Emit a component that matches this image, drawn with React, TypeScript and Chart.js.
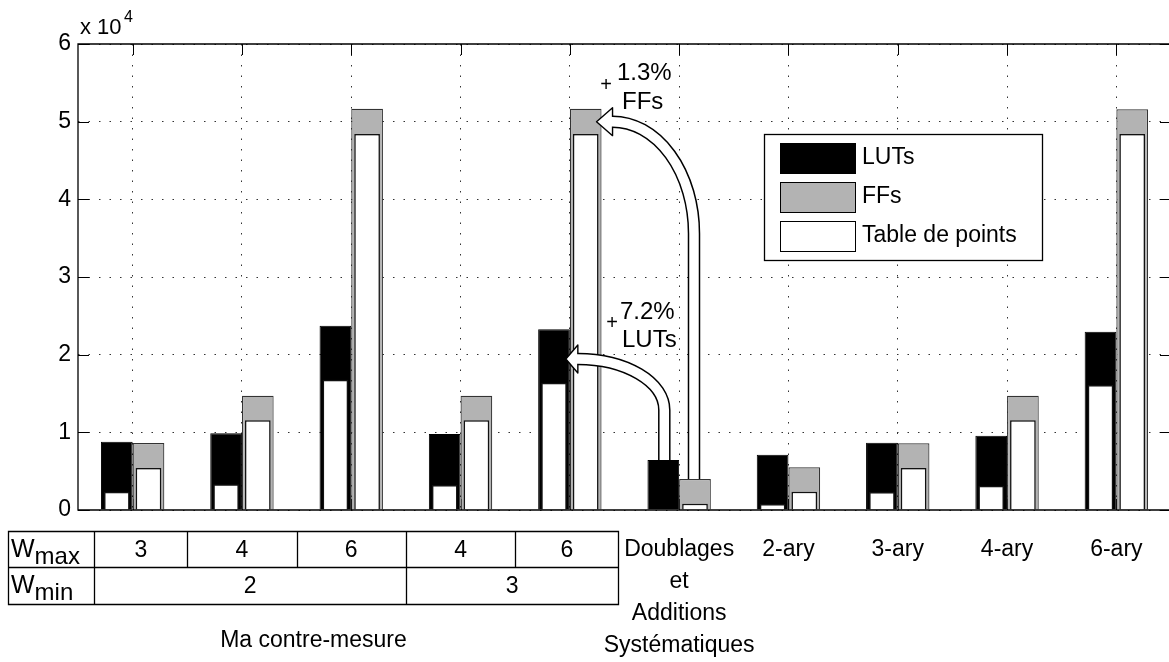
import React, { useEffect, useRef } from 'react';
import { Chart, registerables } from 'chart.js';
Chart.register(...registerables);

// ---- data ----
const categories: (string | string[])[] = ['', '', '', '', '', ['Doublages', 'et', 'Additions', 'Systématiques'], '2-ary', '3-ary', '4-ary', '6-ary'];
const lutsTotal = [8790, 9880, 23730, 9780, 23270, 6440, 7120, 8660, 9570, 22960];
const ffsTotal = [8630, 14700, 51670, 14700, 51670, 3990, 5500, 8590, 14700, 51590];
const lutsTable = [2360, 3310, 16780, 3220, 16390, 0, 770, 2320, 3130, 16090];
const ffsTable = [5410, 11550, 48410, 11550, 48410, 810, 2360, 5410, 11550, 48410];
const yTickValues = [0, 1, 2, 3, 4, 5, 6]; // x 10^4
const wmaxLabels = ['3', '4', '6', '4', '6'];
const wminLabels = [{ label: '2', from: 0, to: 2 }, { label: '3', from: 3, to: 4 }];
const groupLabel = 'Ma contre-mesure';
const legendLabels = ['LUTs', 'FFs', 'Table de points'];
const ffIncrease = '1.3%';
const lutIncrease = '7.2%';

const FONT = '"Liberation Sans", Arial, Helvetica, sans-serif';
const GRAY = '#b3b3b3';

function hollowArrow(ctx: CanvasRenderingContext2D, path: () => void, tip: [number, number], base: [number, number], halfW: number) {
  ctx.save();
  ctx.lineCap = 'butt';
  ctx.lineJoin = 'round';
  ctx.strokeStyle = '#000';
  ctx.lineWidth = 12.5;
  ctx.beginPath(); path(); ctx.stroke();
  ctx.beginPath();
  ctx.moveTo(tip[0], tip[1]);
  ctx.lineTo(base[0], base[1] - halfW);
  ctx.lineTo(base[0], base[1] + halfW);
  ctx.closePath();
  ctx.fillStyle = '#fff';
  ctx.fill();
  ctx.lineWidth = 1.4;
  ctx.stroke();
  ctx.strokeStyle = '#fff';
  ctx.lineWidth = 9.5;
  ctx.beginPath(); path(); ctx.stroke();
  ctx.restore();
}

const decor = {
  id: 'decor',
  beforeDatasetsDraw(chart: any) {
    const { ctx, chartArea: a, scales } = chart;
    const x = scales.x, y = scales.y;
    ctx.save();
    ctx.strokeStyle = '#000';
    ctx.lineWidth = 1;
    ctx.beginPath();
    yTickValues.forEach((t) => {
      const py = Math.round(y.getPixelForValue(t * 10000)) + 0.5;
      ctx.moveTo(a.left, py); ctx.lineTo(a.left + 11, py);
      ctx.moveTo(a.right - 11, py); ctx.lineTo(a.right, py);
    });
    categories.forEach((_, i) => {
      const px = Math.round(x.getPixelForValue(i)) + 0.5;
      ctx.moveTo(px, a.top); ctx.lineTo(px, a.top + 11);
      ctx.moveTo(px, a.bottom - 11); ctx.lineTo(px, a.bottom);
    });
    ctx.stroke();
    ctx.restore();
  },
  afterDatasetsDraw(chart: any) {
    const { ctx, chartArea: a, scales } = chart;
    const x = scales.x, y = scales.y;
    ctx.save();
    ctx.strokeStyle = '#000';
    ctx.lineWidth = 1.3;
    ctx.beginPath();
    ctx.moveTo(a.left, a.bottom); ctx.lineTo(a.left, a.top); ctx.lineTo(a.right, a.top); ctx.lineTo(a.right, a.bottom); ctx.closePath();
    ctx.stroke();

    const lutMeta = chart.getDatasetMeta(2);
    const ffMeta = chart.getDatasetMeta(3);
    {
      const src = ffMeta.data[5];
      const dst = ffMeta.data[4];
      const sx = src.x - 1;
      const tipX = dst.x + dst.width / 2 - 5;
      const tipY = y.getPixelForValue(50000);
      const baseX = tipX + 16;
      const cy = y.getPixelForValue(35600);
      hollowArrow(ctx, () => {
        ctx.moveTo(sx, src.y);
        ctx.lineTo(sx, cy);
        ctx.ellipse(baseX, cy, sx - baseX, cy - tipY, 0, 0, -Math.PI / 2, true);
        ctx.lineTo(baseX - 2, tipY);
      }, [tipX, tipY], [baseX, tipY], 14);
    }
    {
      const src = lutMeta.data[5];
      const dst = lutMeta.data[4];
      const sx = src.x + 1;
      const tipX = dst.x + dst.width / 2 - 4;
      const tipY = y.getPixelForValue(19440);
      const baseX = tipX + 12;
      const cy = y.getPixelForValue(12870);
      hollowArrow(ctx, () => {
        ctx.moveTo(sx, src.y);
        ctx.lineTo(sx, cy);
        ctx.ellipse(baseX, cy, sx - baseX, cy - tipY, 0, 0, -Math.PI / 2, true);
        ctx.lineTo(baseX - 2, tipY);
      }, [tipX, tipY], [baseX, tipY], 14);
    }

    ctx.fillStyle = '#000';
    ctx.textBaseline = 'middle';
    ctx.textAlign = 'left';
    ctx.font = `24px ${FONT}`;
    ctx.fillText(ffIncrease, 617, 73);
    ctx.fillText('FFs', 622, 102);
    ctx.fillText(lutIncrease, 620, 312);
    ctx.fillText('LUTs', 622, 340);
    ctx.font = `20px ${FONT}`;
    ctx.textAlign = 'center';
    ctx.fillText('+', 606, 85);
    ctx.fillText('+', 612, 323);

    const lx = 764, ly = 134, lw = 278, lh = 126;
    ctx.fillStyle = '#fff';
    ctx.fillRect(lx, ly, lw, lh);
    ctx.strokeStyle = '#000';
    ctx.lineWidth = 1.3;
    ctx.strokeRect(lx + 0.5, ly + 0.5, lw, lh);
    const fills = ['#000', GRAY, '#fff'];
    legendLabels.forEach((lab, i) => {
      const sy = 143 + i * 39;
      ctx.fillStyle = fills[i];
      ctx.fillRect(780, sy, 75, 30);
      ctx.lineWidth = 1;
      ctx.strokeStyle = '#000';
      ctx.strokeRect(780.5, sy + 0.5, 75, 30);
      ctx.fillStyle = '#000';
      ctx.font = `23px ${FONT}`;
      ctx.textAlign = 'left';
      ctx.textBaseline = 'middle';
      ctx.fillText(lab, 862, sy + 15);
    });

    ctx.textBaseline = 'alphabetic';
    ctx.textAlign = 'left';
    ctx.font = `22px ${FONT}`;
    ctx.fillText('x 10', 80, 34);
    ctx.font = `16px ${FONT}`;
    ctx.fillText('4', 124, 22);

    const cx = (i: number) => x.getPixelForValue(i);
    const mid = (i: number) => (cx(i) + cx(i + 1)) / 2;
    const tLeft = 8.5, tCol = 94.5, tRight = mid(4) - 6;
    const r0 = 531.5, r1 = 567.5, r2 = 604.5;
    ctx.strokeStyle = '#000';
    ctx.lineWidth = 1.3;
    ctx.beginPath();
    ctx.rect(tLeft, r0, tRight - tLeft, r2 - r0);
    ctx.moveTo(tLeft, r1); ctx.lineTo(tRight, r1);
    ctx.moveTo(tCol, r0); ctx.lineTo(tCol, r2);
    for (let i = 0; i < 4; i++) { const m = Math.round(mid(i)) + 0.5; ctx.moveTo(m, r0); ctx.lineTo(m, r1); }
    const m23 = Math.round(mid(2)) + 0.5;
    ctx.moveTo(m23, r1); ctx.lineTo(m23, r2);
    ctx.stroke();
    const colEdges = [tCol, mid(0), mid(1), mid(2), mid(3), tRight];
    ctx.fillStyle = '#000';
    ctx.textAlign = 'center';
    ctx.textBaseline = 'middle';
    ctx.font = `23px ${FONT}`;
    wmaxLabels.forEach((lab, i) => ctx.fillText(lab, (colEdges[i] + colEdges[i + 1]) / 2, (r0 + r1) / 2 + 1));
    wminLabels.forEach((w) => ctx.fillText(w.label, (colEdges[w.from] + colEdges[w.to + 1]) / 2, (r1 + r2) / 2 + 1));
    ctx.textAlign = 'left';
    ctx.textBaseline = 'alphabetic';
    ctx.font = `25px ${FONT}`;
    const wW = ctx.measureText('W').width;
    ctx.fillText('W', 11, 557);
    ctx.fillText('W', 11, 593);
    ctx.font = `24px ${FONT}`;
    ctx.fillText('max', 11 + wW, 564);
    ctx.fillText('min', 11 + wW, 600);
    ctx.textAlign = 'center';
    ctx.font = `23px ${FONT}`;
    ctx.fillText(groupLabel, (tLeft + tRight) / 2, 647);
    ctx.restore();
  },
};

export default function App() {
  const ref = useRef<HTMLCanvasElement>(null);
  useEffect(() => {
    if (!ref.current) return;
    const dashed = { display: false, dash: [1.5, 9] };
    const chart = new Chart(ref.current, {
      type: 'bar',
      data: {
        labels: categories as any,
        datasets: [
          { label: 'Table de points (LUTs)', data: lutsTable, stack: 'L', backgroundColor: '#fff', borderColor: '#111', borderWidth: 1.5, barPercentage: 0.81, categoryPercentage: 0.58 },
          { label: 'Table de points (FFs)', data: ffsTable, stack: 'F', backgroundColor: '#fff', borderColor: '#111', borderWidth: 1.5, barPercentage: 0.81, categoryPercentage: 0.58 },
          { label: 'LUTs', data: lutsTotal, stack: 'L', backgroundColor: '#000', borderColor: '#000', borderWidth: 1, barPercentage: 1, categoryPercentage: 0.58 },
          { label: 'FFs', data: ffsTotal, stack: 'F', backgroundColor: GRAY, borderColor: '#333', borderWidth: 1.2, barPercentage: 1, categoryPercentage: 0.58 },
        ],
      },
      options: {
        responsive: false,
        animation: false,
        layout: { padding: { top: 44, right: 9, left: 0, bottom: 0 } },
        plugins: { legend: { display: false }, tooltip: { enabled: false } },
        scales: {
          x: {
            grid: { offset: false, drawTicks: false, color: '#333', lineWidth: 1 },
            border: dashed,
            ticks: {
              color: '#000',
              padding: 24,
              maxRotation: 0,
              autoSkip: false,
              font: { family: FONT, size: 23, lineHeight: 1.39 },
            },
            afterFit: (s: any) => { s.height = 152; s.paddingLeft = 0; s.paddingRight = 0; },
          },
          y: {
            min: 0,
            max: 60000,
            stacked: false,
            grid: { drawTicks: false, color: '#333', lineWidth: 1 },
            border: dashed,
            ticks: {
              stepSize: 10000,
              padding: 7,
              color: '#000',
              font: { family: FONT, size: 23 },
              callback: (v: any) => String(Number(v) / 10000),
            },
            afterFit: (s: any) => { s.width = 78; s.paddingTop = 0; s.paddingBottom = 0; },
          },
        },
      },
      plugins: [decor],
    } as any);
    return () => chart.destroy();
  }, []);
  return (
    <div style={{ position: 'fixed', left: 0, top: 0, width: 1169, height: 662, overflow: 'hidden', background: '#fff' }}>
      <canvas ref={ref} width={1180} height={662} style={{ display: 'block' }} />
    </div>
  );
}
